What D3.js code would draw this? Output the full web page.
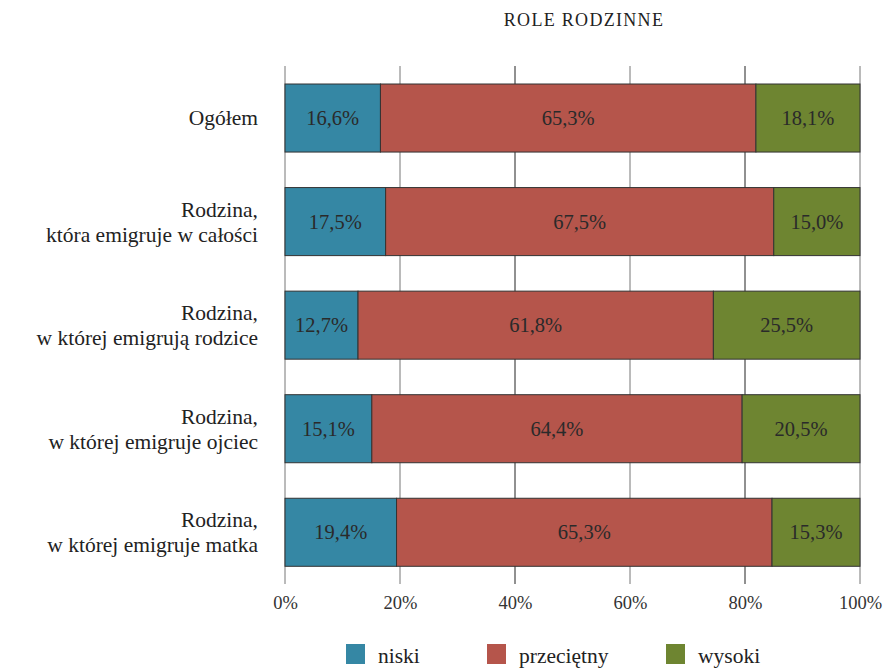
<!DOCTYPE html>
<html>
<head>
<meta charset="utf-8">
<script src="https://cdn.jsdelivr.net/npm/d3@7"></script>
<style>
  body { margin: 0; background: #fff; }
  svg { font-family: "Liberation Serif", "DejaVu Serif", serif; }
</style>
</head>
<body>
<svg id="chart"></svg>
<script>
const categories = [
  ["Ogółem"],
  ["Rodzina,", "która emigruje w całości"],
  ["Rodzina,", "w której emigrują rodzice"],
  ["Rodzina,", "w której emigruje ojciec"],
  ["Rodzina,", "w której emigruje matka"]
];
const seriesNames = ["niski", "przeciętny", "wysoki"];
const niski = [16.6, 17.5, 12.7, 15.1, 19.4];
const przecietny = [65.3, 67.5, 61.8, 64.4, 65.3];
const wysoki = [18.1, 15.0, 25.5, 20.5, 15.3];
const tickValues = [0, 20, 40, 60, 80, 100];
const colors = ["#3587a4", "#b5554b", "#6e8531"];

const width = 887, height = 670;
const svg = d3.select('#chart').attr('width', width).attr('height', height);

// rows for the stack
const rows = categories.map((c, i) => ({
  key: i, niski: niski[i], 'przeciętny': przecietny[i], wysoki: wysoki[i]
}));
const stacked = d3.stack().keys(seriesNames)(rows);

const x = d3.scaleLinear().domain([0, 100]).range([285, 860]);
const y = d3.scaleBand()
  .domain(d3.range(categories.length))
  .range([66.4, 583.9])
  .paddingInner(0.343)
  .paddingOuter(0.17);

// title
svg.append('text')
  .attr('x', 584).attr('y', 26)
  .attr('text-anchor', 'middle')
  .style('font-size', '18px')
  .style('letter-spacing', '1.3px')
  .attr('fill', '#222')
  .text('ROLE RODZINNE');

// gridlines (drawn behind bars)
svg.append('g')
  .selectAll('line')
  .data(tickValues)
  .enter()
  .append('line')
  .attr('x1', d => x(d)).attr('x2', d => x(d))
  .attr('y1', 66).attr('y2', 584)
  .attr('stroke', d => (d === 40 || d === 80) ? '#222' : '#777')
  .attr('stroke-width', 1);

// x axis labels
const axis = d3.axisBottom(x)
  .tickValues(tickValues)
  .tickSize(0)
  .tickPadding(0)
  .tickFormat(d => d + '%');
const gx = svg.append('g')
  .attr('transform', 'translate(0, 609)')
  .call(axis);
gx.select('.domain').remove();
gx.selectAll('text')
  .attr('dy', 0)
  .style('font-family', '"Liberation Serif", serif')
  .style('font-size', '18.5px')
  .attr('fill', '#333');

// bars
const layers = svg.append('g')
  .selectAll('g')
  .data(stacked)
  .enter()
  .append('g')
  .attr('fill', (d, i) => colors[i]);

layers.selectAll('rect')
  .data(d => d)
  .enter()
  .append('rect')
  .attr('x', d => x(d[0]))
  .attr('y', (d, i) => y(i))
  .attr('width', d => x(d[1]) - x(d[0]))
  .attr('height', y.bandwidth())
  .attr('stroke', '#333')
  .attr('stroke-width', 1);

layers.selectAll('text')
  .data(d => d.map(v => ({ v, key: d.key })))
  .enter()
  .append('text')
  .attr('x', d => (x(d.v[0]) + x(d.v[1])) / 2)
  .attr('y', (d, i) => y(i) + y.bandwidth() / 2 + 7)
  .attr('text-anchor', 'middle')
  .attr('fill', '#2a2a2a')
  .style('font-size', '20.5px')
  .text(d => d.v.data[d.key].toFixed(1).replace('.', ',') + '%');

// category labels
const labels = svg.append('g')
  .selectAll('text')
  .data(categories)
  .enter()
  .append('text')
  .attr('text-anchor', 'end')
  .attr('fill', '#222')
  .style('font-size', '21.5px');

labels.each(function(lines, i) {
  const cy = y(i) + y.bandwidth() / 2;
  const t = d3.select(this);
  lines.forEach((line, j) => {
    const off = lines.length === 1 ? 7 : (j === 0 ? -5 : 20);
    t.append('tspan')
      .attr('x', 258)
      .attr('y', cy + off)
      .text(line);
  });
});

// legend
const legendX = [346, 487, 666];
const legend = svg.append('g')
  .selectAll('g')
  .data(seriesNames)
  .enter()
  .append('g')
  .attr('transform', (d, i) => `translate(${legendX[i]}, 644)`);

legend.append('rect')
  .attr('width', 19).attr('height', 20)
  .attr('fill', (d, i) => colors[i]);

legend.append('text')
  .attr('x', 32).attr('y', 19)
  .attr('fill', '#222')
  .style('font-size', '21.5px')
  .text(d => d);
</script>
</body>
</html>
